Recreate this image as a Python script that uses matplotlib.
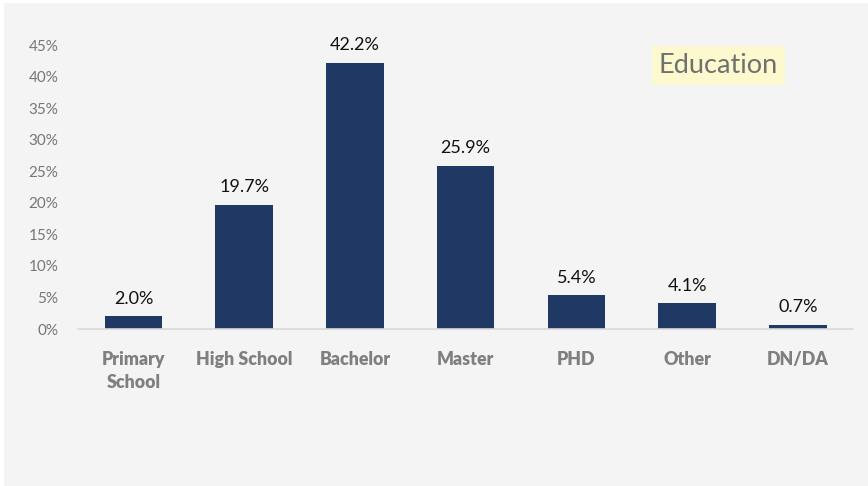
import matplotlib.pyplot as plt
from matplotlib.patches import Rectangle
from matplotlib.ticker import FuncFormatter

plt.rcParams['font.family'] = ['Lato', 'DejaVu Sans']

categories = ['Primary\nSchool', 'High School', 'Bachelor', 'Master', 'PHD', 'Other', 'DN/DA']
shares = [2.0, 19.7, 42.2, 25.9, 5.4, 4.1, 0.7]
y_ticks = [0, 5, 10, 15, 20, 25, 30, 35, 40, 45]

bar_color = '#1f3864'
bg_color = '#f4f4f4'

fig = plt.figure(figsize=(8.68, 4.86), dpi=100, facecolor='white')
# light gray panel behind the chart
panel = Rectangle((4 / 868, 0), 1, 1 - 3 / 486, transform=fig.transFigure,
                  facecolor=bg_color, edgecolor='none', zorder=-10)
fig.add_artist(panel)

ax = fig.add_axes([0.0899, 0.323, 0.893, 0.584])
ax.set_zorder(1)
ax.set_facecolor('none')

x = range(len(categories))
ax.bar(x, shares, width=0.52, color=bar_color, zorder=2)

for xi, v in zip(x, shares):
    ax.text(xi, v + 1.5, f'{v:.1f}%', ha='center', va='bottom', fontsize=13, color='#111111')

ax.set_xlim(-0.5, len(categories) - 0.5)
ax.set_ylim(0, 45)
ax.set_yticks(y_ticks)
ax.yaxis.set_major_formatter(FuncFormatter(lambda v, p: f'{v:.0f}%'))
ax.set_xticks(list(x))
ax.set_xticklabels(categories, fontsize=12.8, fontweight='heavy', color='#7f7f7f',
                   linespacing=1.4)

ax.tick_params(axis='y', length=0, labelsize=11, labelcolor='#767676', pad=14)
ax.tick_params(axis='x', length=0, pad=16)

for side in ['top', 'right', 'left']:
    ax.spines[side].set_visible(False)
ax.spines['bottom'].set_color('#d9d9d9')
ax.spines['bottom'].set_linewidth(1.2)

fig.text(0.8275, 0.865, 'Education', ha='center', va='center', fontsize=19.5, color='#707070',
         zorder=5, bbox=dict(boxstyle='square,pad=0.26', facecolor='#fbf9cd', edgecolor='none'))

fig.savefig('out.png', dpi=100, facecolor=fig.get_facecolor())
